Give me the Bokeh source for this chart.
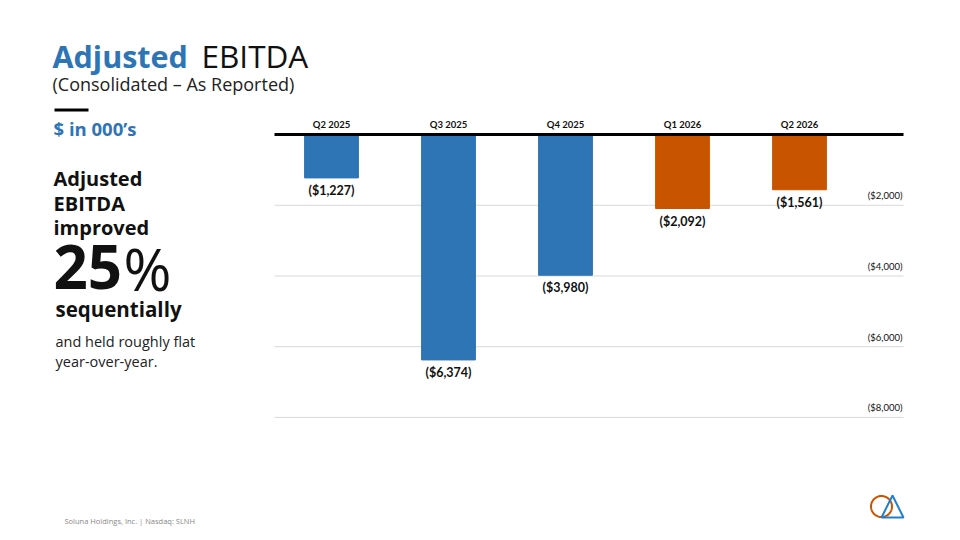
import numpy as np
from bokeh.plotting import figure
from bokeh.models import Label, Range1d, ColumnDataSource, PolyAnnotation
from bokeh.embed import file_html
from bokeh.resources import INLINE
from bokeh.core.properties import value

# ---- data ----
quarters = ["Q2 2025", "Q3 2025", "Q4 2025", "Q1 2026", "Q2 2026"]
ebitda = [-1227, -6374, -3980, -2092, -1561]
value_labels = ["($1,227)", "($6,374)", "($3,980)", "($2,092)", "($1,561)"]
tick_values = [-2000, -4000, -6000, -8000]
tick_labels = ["($2,000)", "($4,000)", "($6,000)", "($8,000)"]

# ---- styles ----
BLUE = "#2E75B6"
ORANGE = "#C95400"
bar_colors = [BLUE, BLUE, BLUE, ORANGE, ORANGE]
FONT = "Open Sans"
CFONT = "Lato"

W, H = 960, 540
idx = list(range(len(quarters)))
src = ColumnDataSource(dict(x=idx, q=quarters, v=ebitda, lab=value_labels, c=bar_colors))

# plot frame covers the full canvas; chart area spans XL..XR
XL, XR = -0.487, 4.889
p = figure(width=W, height=H, x_range=Range1d(-2.829, 5.376), y_range=Range1d(-11480, 3790),
           x_axis_location=None, y_axis_location=None, toolbar_location=None,
           output_backend="svg", min_border=0)
p.outline_line_color = None
p.xgrid.visible = False
p.ygrid.visible = False
p.background_fill_color = "white"
p.border_fill_color = "white"

# gridlines
n = len(tick_values)
p.segment(x0=[XL] * n, x1=[XR] * n, y0=tick_values, y1=tick_values,
          line_color="#D9D9D9", line_width=1)

p.vbar(x="x", top=0, bottom="v", width=0.46, fill_color="c", line_color="c", source=src)

# zero line
p.segment(x0=[XL], x1=[XR], y0=[0], y1=[0], line_color="black", line_width=3)

p.text(x="x", y="v", text="lab", source=src, text_align="center", text_baseline="top",
       y_offset=5, text_font=value(CFONT), text_font_style="bold",
       text_font_size="12.5px", text_color="#111111")
p.text(x="x", y=0, text="q", source=src, text_align="center", text_baseline="bottom",
       y_offset=-5, text_font=value(CFONT), text_font_style="bold",
       text_font_size="9.5px", text_color="#111111")

tsrc = ColumnDataSource(dict(x=[XR] * n, y=tick_values, t=tick_labels))
p.text(x="x", y="y", text="t", source=tsrc, text_align="right", text_baseline="bottom",
       y_offset=-4, x_offset=-1, text_font=value(CFONT), text_font_size="9.5px",
       text_color="#111111")

K = 0.42  # empirical shift of Label alphabetic baseline


def lab(text, x, y, size, color="#111111", bold=False, font=FONT):
    # x = page x, y = page baseline (converted to screen units from bottom)
    yy = y - K * size
    p.add_layout(Label(x=x, y=H - yy, x_units="screen", y_units="screen", text=text,
                       text_font=font, text_font_size=f"{size}px", text_color=color,
                       text_font_style="bold" if bold else "normal",
                       text_baseline="alphabetic", text_align="left"))


lab("Adjusted", 52, 68, 30.5, BLUE, True)
lab("EBITDA", 201, 68, 31.5, "#111111")
lab("(Consolidated \u2013 As Reported)", 52, 91, 18, "#222222")
lab("$ in 000\u2019s", 53, 136, 18.5, BLUE, True)
lab("Adjusted", 53, 186, 20, "#111111", True)
lab("EBITDA", 53, 211, 20, "#111111", True)
lab("improved", 53, 235, 20, "#111111", True)
lab("25", 53, 292, 60, "#111111", True)
lab("%", 123, 292, 58, "#111111")
lab("sequentially", 55, 317, 20.5, "#111111", True)
lab("and held roughly flat", 55, 347, 14.5, "#222222")
lab("year-over-year.", 55, 367, 14.5, "#222222")
lab("Soluna Holdings, Inc. | Nasdaq: SLNH", 64, 523.5, 7.5, "#888888")

# short black rule
p.add_layout(PolyAnnotation(xs=[54, 88, 88, 54], ys=[H - 108, H - 108, H - 111, H - 111],
                            xs_units="screen", ys_units="screen", fill_color="black",
                            fill_alpha=1, line_color=None))

# logo
ang = np.linspace(0, 2 * np.pi, 60)
p.add_layout(PolyAnnotation(xs=list(881 + 10.5 * np.cos(ang)), ys=list(H - 506 + 10.5 * np.sin(ang)),
                            xs_units="screen", ys_units="screen", fill_alpha=0,
                            line_color=ORANGE, line_alpha=1, line_width=2))
p.add_layout(PolyAnnotation(xs=[892, 881, 903], ys=[H - 495, H - 517, H - 517],
                            xs_units="screen", ys_units="screen", fill_alpha=0,
                            line_color="#1F7FD0", line_alpha=1, line_width=2))

open("out.html", "w").write(file_html(p, INLINE))
